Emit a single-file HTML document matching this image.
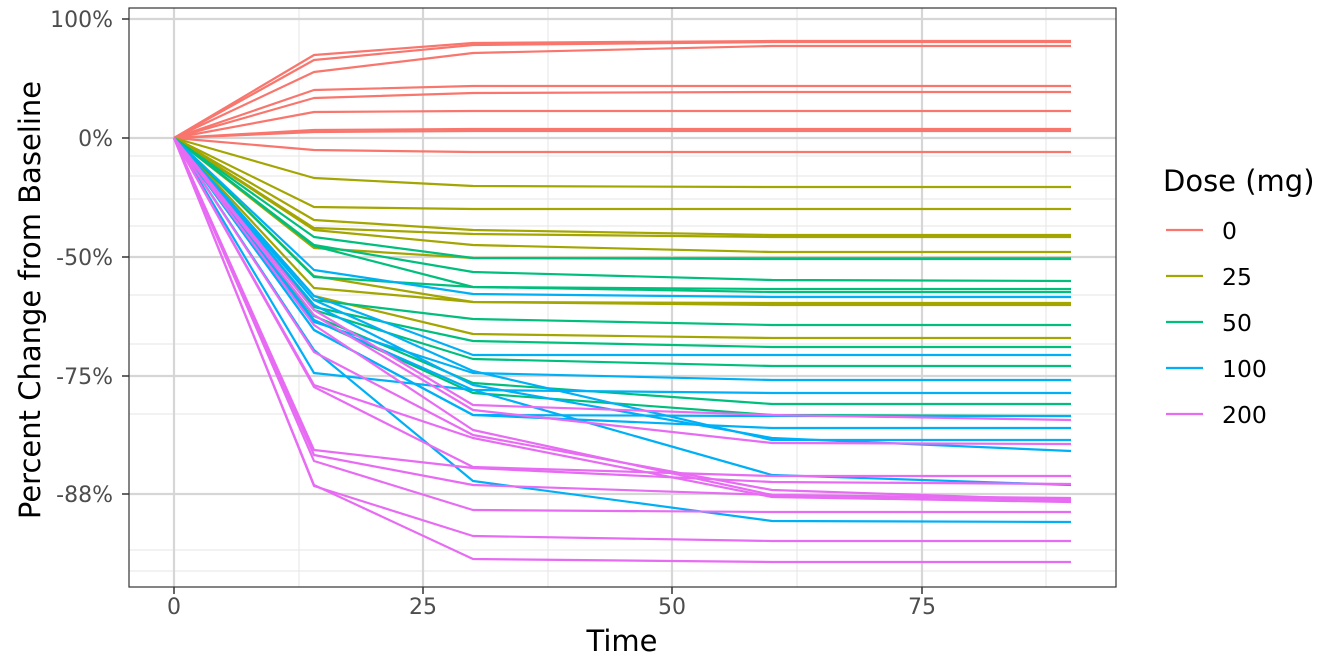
<!DOCTYPE html>
<html><head><meta charset="utf-8"><style>
body{margin:0;background:#fff}
svg{display:block;font-family:"DejaVu Sans","Liberation Sans",sans-serif}
</style></head><body>
<svg width="1344" height="672" viewBox="0 0 1344 672" xmlns="http://www.w3.org/2000/svg">
<rect width="1344" height="672" fill="#fff"/>
<g stroke="#e6e6e6" stroke-width="1.1" fill="none">
<line x1="129" x2="1116" y1="156" y2="156"/><line x1="129" x2="1116" y1="176" y2="176"/>
<line x1="129" x2="1116" y1="199" y2="199"/><line x1="129" x2="1116" y1="226" y2="226"/>
<line x1="129" x2="1116" y1="295" y2="295"/><line x1="129" x2="1116" y1="344" y2="344"/>
<line x1="129" x2="1116" y1="414" y2="414"/><line x1="129" x2="1116" y1="550" y2="550"/>
<line x1="129" x2="1116" y1="571" y2="571"/>
<line x1="299" x2="299" y1="8" y2="587"/><line x1="548" x2="548" y1="8" y2="587"/>
<line x1="797" x2="797" y1="8" y2="587"/><line x1="1046" x2="1046" y1="8" y2="587"/>
</g>
<g stroke="#d6d6d6" stroke-width="2.2" fill="none">
<line x1="129" x2="1116" y1="19" y2="19"/><line x1="129" x2="1116" y1="138" y2="138"/>
<line x1="129" x2="1116" y1="257" y2="257"/><line x1="129" x2="1116" y1="376" y2="376"/>
<line x1="129" x2="1116" y1="494" y2="494"/>
<line x1="174" x2="174" y1="8" y2="587"/><line x1="423" x2="423" y1="8" y2="587"/>
<line x1="672" x2="672" y1="8" y2="587"/><line x1="922" x2="922" y1="8" y2="587"/>
</g>
<g fill="none" stroke-width="2.2" stroke-linejoin="round">
<g stroke="#F8766D">
<polyline points="174,138 314,55 473,43 772,41 1071,41"/>
<polyline points="174,138 314,60 473,45 772,42 1071,42"/>
<polyline points="174,138 314,72 473,53 772,46 1071,46"/>
<polyline points="174,138 314,90 473,86 772,86 1071,86"/>
<polyline points="174,138 314,98 473,93 772,92 1071,92"/>
<polyline points="174,138 314,112 473,111 772,111 1071,111"/>
<polyline points="174,138 314,130 473,129 772,129 1071,129"/>
<polyline points="174,138 314,132 473,131 772,131 1071,131"/>
<polyline points="174,138 314,150 473,152 772,152 1071,152"/>
</g>
<g stroke="#A3A500">
<polyline points="174,138 314,178 473,186 772,187 1071,187"/>
<polyline points="174,138 314,207 473,209 772,209 1071,209"/>
<polyline points="174,138 314,220 473,230 772,235 1071,235"/>
<polyline points="174,138 314,228 473,234 772,237 1071,237"/>
<polyline points="174,138 314,230 473,245 772,252 1071,252"/>
<polyline points="174,138 314,248 473,258 772,258 1071,258"/>
<polyline points="174,138 314,276 473,302 772,305 1071,305"/>
<polyline points="174,138 314,296 473,334 772,338 1071,338"/>
<polyline points="174,138 314,288 473,302 772,303 1071,303"/>
</g>
<g stroke="#00BF7D">
<polyline points="174,138 314,237 473,258 772,259 1071,259"/>
<polyline points="174,138 314,245 473,272 772,280 1071,281"/>
<polyline points="174,138 314,246 473,287 772,289 1071,289"/>
<polyline points="174,138 314,277 473,287 772,292 1071,292"/>
<polyline points="174,138 314,300 473,319 772,325 1071,325"/>
<polyline points="174,138 314,307 473,341 772,347 1071,347"/>
<polyline points="174,138 314,310 473,359 772,366 1071,366"/>
<polyline points="174,138 314,316 473,383 772,404 1071,404"/>
<polyline points="174,138 314,320 473,393 772,415 1071,416"/>
</g>
<g stroke="#00B0F6">
<polyline points="174,138 314,270 473,294 772,297 1071,297"/>
<polyline points="174,138 314,296 473,355 772,355 1071,355"/>
<polyline points="174,138 314,322 473,373 772,380 1071,380"/>
<polyline points="174,138 314,330 473,415 772,416 1071,416"/>
<polyline points="174,138 314,373 473,390 772,393 1071,393"/>
<polyline points="174,138 314,300 473,371 772,440 1071,440"/>
<polyline points="174,138 314,350 473,481 772,521 1071,522"/>
<polyline points="174,138 314,320 473,390 772,475 1071,485"/>
<polyline points="174,138 314,305 473,385 772,438 1071,451"/>
<polyline points="174,138 314,330 473,415 772,428 1071,428"/>
</g>
<g stroke="#E76BF3">
<polyline points="174,138 314,310 473,405 772,415 1071,420"/>
<polyline points="174,138 314,352 473,435 772,490 1071,500"/>
<polyline points="174,138 314,385 473,438 772,497 1071,502"/>
<polyline points="174,138 314,387 473,467 772,476 1071,476"/>
<polyline points="174,138 314,450 473,468 772,482 1071,484"/>
<polyline points="174,138 314,455 473,485 772,495 1071,498"/>
<polyline points="174,138 314,461 473,510 772,512 1071,512"/>
<polyline points="174,138 314,486 473,536 772,541 1071,541"/>
<polyline points="174,138 314,315 473,410 772,443 1071,444"/>
<polyline points="174,138 314,325 473,430 772,495 1071,500"/>
<polyline points="174,138 314,485 473,559 772,562 1071,562"/>
</g>
</g>
<rect x="129" y="8" width="987" height="579" fill="none" stroke="#333" stroke-width="1.2"/>
<g stroke="#333" stroke-width="1.5">
<line x1="122" x2="129" y1="19" y2="19"/><line x1="122" x2="129" y1="138" y2="138"/>
<line x1="122" x2="129" y1="257" y2="257"/><line x1="122" x2="129" y1="376" y2="376"/>
<line x1="122" x2="129" y1="494" y2="494"/>
<line x1="174" x2="174" y1="587" y2="594"/><line x1="423" x2="423" y1="587" y2="594"/>
<line x1="672" x2="672" y1="587" y2="594"/><line x1="922" x2="922" y1="587" y2="594"/>
</g>
<g fill="#4d4d4d" font-size="22" text-anchor="end">
<text x="113" y="27">100%</text><text x="113" y="146">0%</text>
<text x="113" y="265">-50%</text><text x="113" y="384">-75%</text>
<text x="113" y="502">-88%</text>
</g>
<g fill="#4d4d4d" font-size="22" text-anchor="middle">
<text x="174" y="614">0</text><text x="423" y="614">25</text>
<text x="672" y="614">50</text><text x="922" y="614">75</text>
</g>
<text x="622" y="651" font-size="29" text-anchor="middle" fill="#000">Time</text>
<text transform="translate(40,300) rotate(-90)" font-size="29" text-anchor="middle" fill="#000">Percent Change from Baseline</text>
<text x="1163" y="191" font-size="29" fill="#000">Dose (mg)</text>
<g stroke-width="2.2">
<line x1="1166" x2="1203" y1="230" y2="230" stroke="#F8766D"/>
<line x1="1166" x2="1203" y1="276" y2="276" stroke="#A3A500"/>
<line x1="1166" x2="1203" y1="322" y2="322" stroke="#00BF7D"/>
<line x1="1166" x2="1203" y1="368" y2="368" stroke="#00B0F6"/>
<line x1="1166" x2="1203" y1="414" y2="414" stroke="#E76BF3"/>
</g>
<g font-size="23.5" fill="#000">
<text x="1222" y="239">0</text><text x="1222" y="285">25</text>
<text x="1222" y="331">50</text><text x="1222" y="377">100</text>
<text x="1222" y="423">200</text>
</g>
</svg>
</body></html>
